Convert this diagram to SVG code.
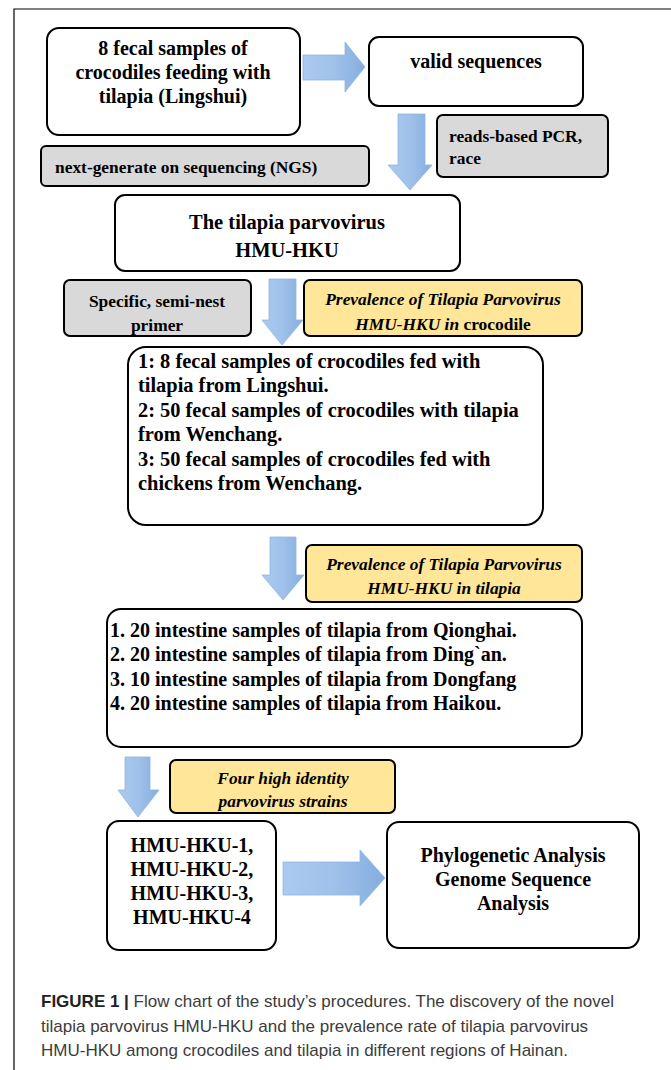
<svg xmlns="http://www.w3.org/2000/svg" width="671" height="1070" viewBox="0 0 671 1070">
<style>
.box{fill:#fff;stroke:#000;stroke-width:2}
.gray{fill:#d9d9d9;stroke:#000;stroke-width:2}
.yel{fill:#ffe699;stroke:#000;stroke-width:2}
.t{font-family:"Liberation Serif","Times New Roman",serif;font-weight:bold;fill:#000}
.c{text-anchor:middle}
.i{font-style:italic}
.arr{fill:url(#bg);stroke:#8fb4e0;stroke-width:0.8}
.cap{font-family:"Liberation Sans",Arial,sans-serif;font-size:17px;fill:#3c3c3c}
</style>
<defs>
<linearGradient id="bg" x1="0" y1="0" x2="1" y2="0">
<stop offset="0" stop-color="#abcaef"/>
<stop offset="0.5" stop-color="#9fc1ea"/>
<stop offset="1" stop-color="#84aedf"/>
</linearGradient>
</defs>
<rect width="671" height="1070" fill="#fff"/>
<path d="M14 1070 V9 H671" fill="none" stroke="#000" stroke-width="1.2"/>

<g id="connectors">
<path class="arr" d="M303 55 H345 V42 L365 67 L345 92 V80 H303 Z"/>
<path class="arr" d="M398 114 H425 V165 H432 L410 190 L388 165 H398 Z"/>
<path class="arr" d="M269 279 H296 V320 H303 L282 345 L262 320 H269 Z"/>
<path class="arr" d="M270 537 H296 V575 H304 L283 600 L262 575 H270 Z"/>
<path class="arr" d="M125 757 H150 V790 H159 L138 817 L118 790 H125 Z"/>
<path class="arr" d="M283 862 H360 V850 L385 878 L360 906 V895 H283 Z"/>
</g>

<g id="n1">
<rect class="box" x="47" y="28" width="253" height="107" rx="12"/>
<text class="t c" font-size="20" x="173" y="55">8 fecal samples of</text>
<text class="t c" font-size="20" x="173" y="79">crocodiles feeding with</text>
<text class="t c" font-size="20" x="173" y="103">tilapia (Lingshui)</text>
</g>
<g id="n2">
<rect class="box" x="369" y="37" width="214" height="69" rx="10"/>
<text class="t c" font-size="20" x="476" y="68">valid sequences</text>
</g>
<g id="n3">
<rect class="gray" x="437" y="115" width="171" height="62" rx="6"/>
<text class="t" font-size="17.4" x="449" y="142">reads-based PCR,</text>
<text class="t" font-size="17.4" x="449" y="164">race</text>
</g>
<g id="n4">
<rect class="gray" x="41" y="146" width="328" height="40" rx="5"/>
<text class="t" font-size="17.4" x="55" y="173">next-generate on sequencing (NGS)</text>
</g>
<g id="n5">
<rect class="box" x="115" y="195" width="345" height="76" rx="10"/>
<text class="t c" font-size="20.5" x="287" y="229">The tilapia parvovirus</text>
<text class="t c" font-size="20.5" x="287" y="257">HMU-HKU</text>
</g>
<g id="n6">
<rect class="gray" x="64" y="280" width="187" height="56" rx="6"/>
<text class="t c" font-size="17.4" x="157" y="307">Specific, semi-nest</text>
<text class="t c" font-size="17.4" x="157" y="331">primer</text>
</g>
<g id="n7">
<rect class="yel" x="304" y="280" width="278" height="56" rx="6"/>
<text class="t c i" font-size="17.4" x="443" y="305">Prevalence of Tilapia Parvovirus</text>
<text class="t c" font-size="17.4" x="443" y="330"><tspan class="i">HMU-HKU in</tspan> crocodile</text>
</g>
<g id="n8">
<rect class="box" x="128" y="347" width="415" height="178" rx="18"/>
<text class="t" font-size="20.4" x="138" y="368">1: 8 fecal samples of crocodiles fed with</text>
<text class="t" font-size="20.4" x="138" y="392">tilapia from Lingshui.</text>
<text class="t" font-size="20.4" x="138" y="417">2: 50 fecal samples of crocodiles with tilapia</text>
<text class="t" font-size="20.4" x="138" y="441">from Wenchang.</text>
<text class="t" font-size="20.4" x="138" y="466">3: 50 fecal samples of crocodiles fed with</text>
<text class="t" font-size="20.4" x="138" y="490">chickens from Wenchang.</text>
</g>
<g id="n9">
<rect class="yel" x="306" y="545" width="276" height="57" rx="6"/>
<text class="t c i" font-size="17.4" x="444" y="570">Prevalence of Tilapia Parvovirus</text>
<text class="t c i" font-size="17.4" x="444" y="594">HMU-HKU in tilapia</text>
</g>
<g id="n10">
<rect class="box" x="107" y="609" width="475" height="138" rx="14"/>
<text class="t" font-size="20" x="110" y="637">1. 20 intestine samples of tilapia from Qionghai.</text>
<text class="t" font-size="20" x="110" y="661">2. 20 intestine samples of tilapia from Ding`an.</text>
<text class="t" font-size="20" x="110" y="686">3. 10 intestine samples of tilapia from Dongfang</text>
<text class="t" font-size="20" x="110" y="710">4. 20 intestine samples of tilapia from Haikou.</text>
</g>
<g id="n11">
<rect class="yel" x="170" y="760" width="225" height="53" rx="6"/>
<text class="t c i" font-size="17.4" x="283" y="784">Four high identity</text>
<text class="t c i" font-size="17.4" x="283" y="807">parvovirus strains</text>
</g>
<g id="n12">
<rect class="box" x="107" y="821" width="169" height="129" rx="12"/>
<text class="t c" font-size="20" x="192" y="852">HMU-HKU-1,</text>
<text class="t c" font-size="20" x="192" y="876">HMU-HKU-2,</text>
<text class="t c" font-size="20" x="192" y="900">HMU-HKU-3,</text>
<text class="t c" font-size="20" x="192" y="924">HMU-HKU-4</text>
</g>
<g id="n13">
<rect class="box" x="387" y="822" width="252" height="126" rx="12"/>
<text class="t c" font-size="20" x="513" y="862">Phylogenetic Analysis</text>
<text class="t c" font-size="20" x="513" y="886">Genome Sequence</text>
<text class="t c" font-size="20" x="513" y="910">Analysis</text>
</g>

<g id="caption">
<text class="cap" x="41" y="1007"><tspan font-weight="bold" fill="#222">FIGURE 1 |</tspan> Flow chart of the study’s procedures. The discovery of the novel</text>
<text class="cap" x="41" y="1032">tilapia parvovirus HMU-HKU and the prevalence rate of tilapia parvovirus</text>
<text class="cap" x="41" y="1056">HMU-HKU among crocodiles and tilapia in different regions of Hainan.</text>
</g>
</svg>
